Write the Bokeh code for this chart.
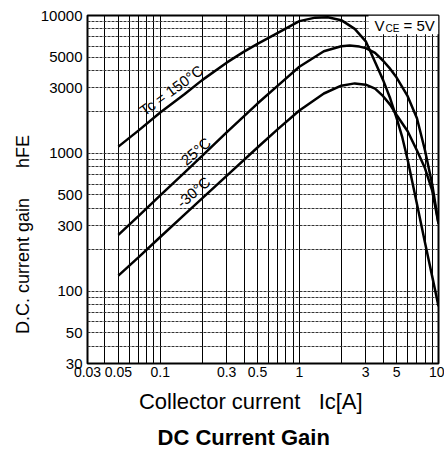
import math
from bokeh.plotting import figure
from bokeh.models import FixedTicker, Label, BoxAnnotation, Title
from bokeh.embed import file_html
from bokeh.resources import INLINE

# ---- data ----
ic_150 = [0.05, 0.07, 0.1, 0.15, 0.2, 0.3, 0.4, 0.5, 0.7, 1.0, 1.3, 1.6, 2.0, 2.5, 3.0, 3.5, 4.0, 4.5, 5.0, 5.5, 6.0, 7.0, 8.0, 9.0, 10.0]
hfe_150 = [1120, 1470, 1980, 2700, 3400, 4550, 5470, 6220, 7480, 9100, 9650, 9700, 9250, 8000, 6500, 4600, 3400, 2500, 1800, 1300, 900, 430, 225, 129, 78]

ic_25 = [0.05, 0.07, 0.1, 0.15, 0.2, 0.3, 0.5, 0.7, 1.0, 1.5, 2.0, 2.3, 2.7, 3.0, 3.5, 4.0, 4.5, 5.0, 6.0, 7.0, 8.0, 9.0, 10.0]
hfe_25 = [257, 353, 497, 730, 960, 1420, 2300, 3100, 4250, 5500, 5980, 6050, 5950, 5800, 5350, 4700, 4100, 3550, 2600, 1800, 1050, 600, 310]

ic_m30 = [0.05, 0.07, 0.1, 0.15, 0.2, 0.3, 0.5, 0.7, 1.0, 1.5, 2.0, 2.5, 3.0, 3.5, 4.0, 4.5, 5.0, 6.0, 7.0, 8.0, 9.0, 10.0]
hfe_m30 = [130, 177, 248, 362, 472, 688, 1105, 1500, 2050, 2720, 3100, 3220, 3150, 2950, 2600, 2250, 1900, 1450, 1050, 780, 540, 310]

x_ticks = [0.03, 0.05, 0.1, 0.3, 0.5, 1, 3, 5, 10]
x_tick_labels = ["0.03", "0.05", "0.1", "0.3", "0.5", "1", "3", "5", "10"]
y_ticks = [30, 50, 100, 300, 500, 1000, 3000, 5000, 10000]
y_tick_labels = ["30", "50", "100", "300", "500", "1000", "3000", "5000", "10000"]

x_grid = [0.04, 0.05, 0.06, 0.07, 0.08, 0.09, 0.1, 0.2, 0.3, 0.4, 0.5, 0.6, 0.7, 0.8, 0.9,
          1, 2, 3, 4, 5, 6, 7, 8, 9]
y_grid = [40, 50, 60, 70, 80, 90, 100, 200, 300, 400, 500, 600, 700, 800, 900,
          1000, 2000, 3000, 4000, 5000, 6000, 7000, 8000, 9000]

curve_labels = ["Tc = 150°C", "25°C", "-30°C"]
x_title = "Collector current"
x_unit = "Ic[A]"
y_title = "D.C. current gain"
y_unit = "hFE"
chart_title = "DC Current Gain"

FONT = "Liberation Sans"
NB = "\u00a0"

p = figure(width=444, height=456, x_axis_type="log", y_axis_type="log",
           x_range=(0.03, 10), y_range=(30, 10000),
           output_backend="svg", toolbar_location=None,
           min_border_left=87, min_border_right=6, min_border_top=15, min_border_bottom=92)

p.background_fill_color = "white"
p.border_fill_color = "white"
p.outline_line_color = "black"
p.outline_line_width = 2

# grids
p.xgrid.ticker = FixedTicker(ticks=x_grid)
p.ygrid.ticker = FixedTicker(ticks=y_grid)
p.xgrid.grid_line_color = "black"
p.xgrid.grid_line_width = 1
p.ygrid.grid_line_color = "#333333"
p.ygrid.grid_line_width = 1
p.ygrid.grid_line_dash = "3 1"

# axes
p.xaxis.ticker = FixedTicker(ticks=x_ticks)
p.yaxis.ticker = FixedTicker(ticks=y_ticks)
p.xaxis.major_label_overrides = {t: l for t, l in zip(x_ticks, x_tick_labels)}
p.yaxis.major_label_overrides = {t: l for t, l in zip(y_ticks, y_tick_labels)}
for ax in (p.xaxis, p.yaxis):
    ax.axis_line_color = None
    ax.major_tick_in = 0
    ax.major_tick_out = 0
    ax.minor_tick_in = 0
    ax.minor_tick_out = 0
    ax.major_label_text_font = FONT
    ax.major_label_text_color = "black"
    ax.axis_label_text_font = FONT
    ax.axis_label_text_font_style = "normal"
    ax.axis_label_text_color = "black"
p.xaxis.major_label_text_font_size = "14px"
p.yaxis.major_label_text_font_size = "15px"
p.xaxis.major_label_standoff = 3
p.yaxis.major_label_standoff = 5

# axis titles (non-breaking spaces keep the gaps and shift the visible text)
p.xaxis.axis_label = x_title + NB * 3 + x_unit + NB * 4
p.xaxis.axis_label_text_font_size = "22px"
p.xaxis.axis_label_standoff = 9
p.yaxis.axis_label = y_title + NB * 6 + y_unit + NB * 18
p.yaxis.axis_label_text_font_size = "18px"
p.yaxis.axis_label_standoff = 5

# chart title below
t = Title(text=chart_title, align="left", offset=70, standoff=13,
          text_font=FONT, text_font_size="22px", text_font_style="bold", text_color="black")
p.add_layout(t, "below")

# curves
for xs, ys in ((ic_150, hfe_150), (ic_25, hfe_25), (ic_m30, hfe_m30)):
    p.line(xs, ys, line_color="black", line_width=2.5)

# curve labels
lab_pos = [(0.12, 2870, 36), (0.18, 1039, 40), (0.173, 525, 40)]
for txt, (lx, ly, ang) in zip(curve_labels, lab_pos):
    p.add_layout(Label(x=lx, y=ly, text=txt, angle=math.radians(ang),
                       text_align="center", text_baseline="middle",
                       text_font=FONT, text_font_size="15px", text_color="black"))

# VCE = 5V box
p.add_layout(BoxAnnotation(left=3.14, right=10, bottom=7300, top=10000,
                           fill_color="white", fill_alpha=1, line_color=None))
for txt, dx, size in (("V", -64, "15px"), ("CE", -53, "10px"), ("= 5V", -35, "15px")):
    p.add_layout(Label(x=10, y=10000, x_offset=dx, y_offset=-18, text=txt,
                       text_align="left", text_baseline="bottom",
                       text_font=FONT, text_font_size=size, text_color="black"))

open("out.html", "w").write(file_html(p, INLINE))
